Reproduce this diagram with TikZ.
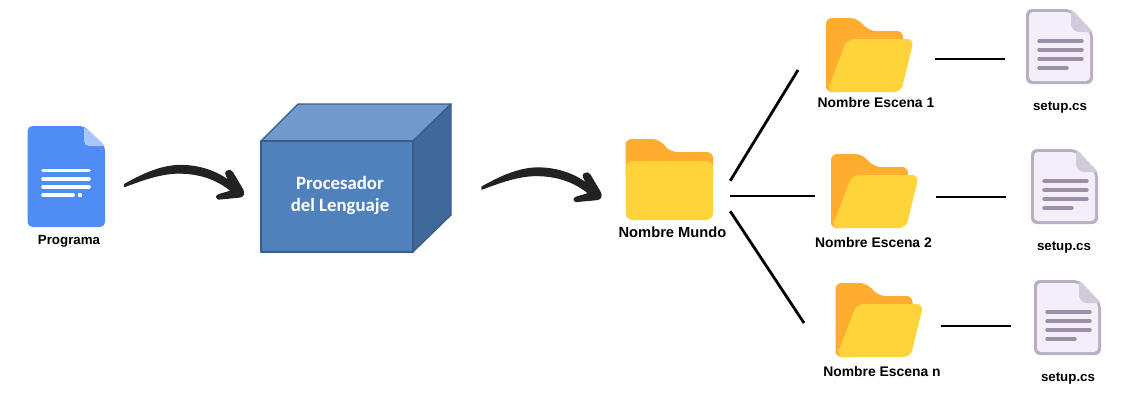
\documentclass[tikz,border=0pt]{standalone}
\usepackage{fontspec}
\setmainfont{Liberation Sans}
\newfontfamily\cubefont{Carlito}
\definecolor{docblue}{HTML}{4F8DF5}
\definecolor{docfold}{HTML}{A9C7FB}
\definecolor{fback}{HTML}{FFAD2E}
\definecolor{ffront}{HTML}{FFD43B}
\definecolor{cfront}{HTML}{4F81BD}
\definecolor{ctop}{HTML}{7299CB}
\definecolor{cside}{HTML}{41689A}
\definecolor{cedge}{HTML}{385D8A}
\definecolor{pfill}{HTML}{F3EEF8}
\definecolor{pedge}{HTML}{B9AFC5}
\definecolor{pfold}{HTML}{D0CADB}
\definecolor{pline}{HTML}{9D8FA8}
\definecolor{ink}{HTML}{222222}
\tikzset{
  x=1pt,y=-1pt,
  lbl/.style={font=\fontsize{13.9}{15}\selectfont\bfseries,inner sep=0pt,text=black,anchor=base},
  lblsmall/.style={lbl,font=\fontsize{13.3}{15}\selectfont\bfseries},
  lblwide/.style={lbl,font=\fontsize{14.7}{15}\selectfont\bfseries},
  cubelbl/.style={font=\cubefont\fontsize{18.8}{22}\selectfont\bfseries,inner sep=0pt,text=white,anchor=base},
  link/.style={draw=black,line width=2.8pt},
  ghost/.style={inner sep=0pt,minimum width=#1,rectangle},
  hand/.pic={
    \fill[ink,draw=ink,line width=1.3pt,line join=round]
      (0,0) .. controls (16,-9) and (36,-19) .. (56,-19)
      .. controls (76,-19) and (94,-12) .. (105,-3)
      .. controls (103,-8) and (100,-11) .. (102,-13)
      .. controls (104,-15) and (107,-14) .. (108,-12)
      -- (118,5) .. controls (120,9) and (119,12) .. (115,12.5)
      -- (94,14.5) .. controls (91,13) and (92,11) .. (95,10)
      -- (107,6.5) .. controls (92,-6) and (74,-11.5) .. (54,-11.5)
      .. controls (36,-11.5) and (16,-4) .. (0,2) -- cycle;
  },
  openfolder/.pic={
    \fill[fback,rounded corners=6pt] (0,65) -- (0,0) -- (30,0) -- (44,13) -- (77,13) -- (77,40) -- (20,74) -- (0,74) -- cycle;
    \fill[ffront,rounded corners=7pt] (21,21) -- (88,21) -- (75,74) -- (1,74) -- cycle;
    \fill[ffront] (1.5,66) -- (10,70) -- (4,70) -- cycle;
  },
  purpledoc/.pic={
    \fill[pedge,rounded corners=6pt] (0,0) -- (45,0) -- (67,23) -- (67,75) -- (0,75) -- cycle;
    \fill[pfill,rounded corners=4pt] (3,3) -- (44,3) -- (64,24) -- (64,72) -- (3,72) -- cycle;
    \fill[pfold,rounded corners=2pt] (45,0) -- (67,23) -- (50,23) -- (45,18) -- cycle;
    \draw[pline,line width=3.4pt,line cap=round] (13,32) -- (56,32) (13,41) -- (56,41) (13,50) -- (56,50) (13,59) -- (41,59);
  }
}
\begin{document}
\begin{tikzpicture}
\useasboundingbox (0,0) rectangle (1141,413);
\fill[white] (0,0) rectangle (1141,413);

% Programa document
\fill[docblue,rounded corners=5pt] (27.5,126) -- (84,126) -- (105,146) -- (105,227) -- (27.5,227) -- cycle;
\fill[docfold] (84,126) -- (105,146) -- (89,146) .. controls (86,146) and (84,144) .. (84,141) -- cycle;
\draw[white,line width=3.6pt,line cap=round] (43,170.5) -- (89,170.5) (43,178.8) -- (89,178.8) (43,187) -- (89,187) (43,195) -- (73,195);
\fill[white] (80,195) circle (2.2pt);
\node[lblsmall] (programa) at (69,244.5) {Programa};

% arrows
\pic at (124.5,184.5) {hand};
\pic at (482,187) {hand};

% cube
\draw[cedge,line width=1.2pt,line join=round,fill=ctop] (261,141) -- (298,104) -- (451,104) -- (413,141) -- cycle;
\draw[cedge,line width=1.2pt,line join=round,fill=cside] (413,141) -- (451,104) -- (451,215) -- (413,252) -- cycle;
\draw[cedge,line width=1.2pt,line join=round,fill=cfront] (261,141) rectangle (413,252);
\node[cubelbl] (proc) at (340,189) {Procesador};
\node[cubelbl] (lang) at (340,211) {del Lenguaje};

% world folder
\fill[fback,rounded corners=6pt] (625.5,180) -- (625.5,139) -- (658,139) -- (671,152) -- (713,152) -- (713,180) -- cycle;
\fill[ffront,rounded corners=7pt] (625.5,161) rectangle (713,220);
\node[ghost=105pt,minimum height=30pt] (mundo) at (677.5,196) {};
\node[lblwide] (mundolbl) at (672.5,237) {Nombre Mundo};

% scene folders
\pic at (826,18) {openfolder};
\pic at (831,154) {openfolder};
\pic at (835.5,283) {openfolder};
\node[lbl] (l1) at (876,107.5) {Nombre Escena 1};
\node[lbl] (l2) at (873.5,247.5) {Nombre Escena 2};
\node[lbl] (l3) at (882,376.5) {Nombre Escena n};

% script documents
\pic at (1026,9) {purpledoc};
\pic at (1031,149) {purpledoc};
\pic at (1034,280) {purpledoc};
\node[lblsmall] (s1) at (1060,110.5) {setup.cs};
\node[lblsmall] (s2) at (1064,250.5) {setup.cs};
\node[lblsmall] (s3) at (1068,381.5) {setup.cs};

% invisible anchors sitting on the icons
\node[ghost=87pt,minimum height=10pt,outer sep=22pt] (e1) at (869.5,59) {};
\node[ghost=87pt,minimum height=10pt,outer sep=18pt] (e2) at (874.5,197) {};
\node[ghost=87pt,minimum height=10pt,outer sep=18pt] (e3) at (879,326) {};
\node[ghost=67pt,minimum height=10pt,outer sep=21pt] (d1) at (1059.5,59) {};
\node[ghost=67pt,minimum height=10pt,outer sep=25pt] (d2) at (1064.5,197) {};
\node[ghost=67pt,minimum height=10pt,outer sep=23pt] (d3) at (1067.5,326) {};
\coordinate (c1) at (798,70);
\coordinate (c2) at (815,196);
\coordinate (c3) at (804,323);

\draw[link] (mundo.north east) -- (c1);
\draw[link] (mundo.east) -- (c2);
\draw[link] (mundo.south east) -- (c3);
\draw[link] (e1) -- (d1);
\draw[link] (e2) -- (d2);
\draw[link] (e3) -- (d3);
\end{tikzpicture}
\end{document}
